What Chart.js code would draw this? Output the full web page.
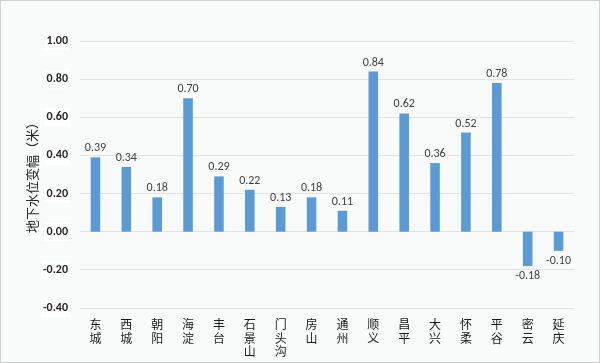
<!DOCTYPE html>
<html>
<head>
<meta charset="utf-8">
<script src="https://cdn.jsdelivr.net/npm/chart.js@4.4.1/dist/chart.umd.min.js"></script>
<style>
  html, body { margin: 0; padding: 0; background: #ffffff; }
  #wrap { width: 600px; height: 363px; }
</style>
</head>
<body>
<div id="wrap"><canvas id="chartWaterLevel" width="600" height="363"></canvas></div>
<script>
// District names (each char on its own line, like the original)
const districts = ['东城', '西城', '朝阳', '海淀', '丰台', '石景山', '门头沟', '房山',
    '通州', '顺义', '昌平', '大兴', '怀柔', '平谷', '密云', '延庆'];
// Change of groundwater level in metres
const levelChange = [0.39, 0.34, 0.18, 0.70, 0.29, 0.22, 0.13, 0.18,
    0.11, 0.84, 0.62, 0.36, 0.52, 0.78, -0.18, -0.10];
const yMin = -0.4;
const yMax = 1.0;
const yStep = 0.2;
const yTitle = '地下水位变幅（米）';

const cjkFont = '"Noto Sans CJK SC", "Noto Sans", sans-serif';
const latinFont = 'Calibri, "Liberation Sans", "Open Sans", sans-serif';

// Background + thin frame around the whole picture
const frame = {
    id: 'frame',
    beforeDraw(chart) {
        const c = chart.ctx;
        c.save();
        c.fillStyle = '#f9fafa';
        c.fillRect(0, 0, chart.width, chart.height);
        c.strokeStyle = '#d0d0d0';
        c.lineWidth = 1;
        c.strokeRect(0.5, 0.5, chart.width - 1, chart.height - 1);
        c.restore();
    }
};

// Value labels above (or below) each bar
const valueLabels = {
    id: 'valueLabels',
    afterDatasetsDraw(chart) {
        const c = chart.ctx;
        const meta = chart.getDatasetMeta(0);
        c.save();
        c.font = '12px ' + latinFont;
        c.fillStyle = '#404040';
        c.textAlign = 'center';
        meta.data.forEach((bar, i) => {
            const v = levelChange[i];
            if (v >= 0) {
                c.textBaseline = 'bottom';
                c.fillText(v.toFixed(2), bar.x, bar.y - 3);
            } else {
                c.textBaseline = 'top';
                c.fillText(v.toFixed(2), bar.x, bar.y + 4);
            }
        });
        c.restore();
    }
};

const ctx = document.getElementById('chartWaterLevel').getContext('2d');
new Chart(ctx, {
    type: 'bar',
    data: {
        labels: districts.map(d => d.split('')),
        datasets: [{
            data: levelChange,
            backgroundColor: '#5b9bd5',
            borderWidth: 0,
            barPercentage: 0.31,
            categoryPercentage: 1.0
        }]
    },
    options: {
        responsive: false,
        animation: false,
        layout: { padding: { top: 41, right: 26, bottom: 0, left: 24 } },
        plugins: {
            legend: { display: false },
            tooltip: { enabled: false }
        },
        scales: {
            x: {
                grid: { display: false },
                border: { display: false },
                ticks: {
                    color: '#1a1a1a',
                    font: { family: cjkFont, size: 12, lineHeight: 1.12 },
                    padding: 2,
                    maxRotation: 0,
                    autoSkip: false
                },
                afterFit(scale) { scale.height = 55; }
            },
            y: {
                min: yMin,
                max: yMax,
                ticks: {
                    stepSize: yStep,
                    color: '#262626',
                    font: { family: latinFont, size: 12, weight: 'bold' },
                    padding: 12,
                    callback: v => (Math.abs(v) < 1e-9 ? 0 : v).toFixed(2),
                    showLabelBackdrop: true,
                    backdropColor: '#ffffff',
                    backdropPadding: 2
                },
                grid: { color: '#e2e2e2', drawTicks: false },
                border: { display: false },
                title: {
                    display: true,
                    text: yTitle,
                    color: '#262626',
                    font: { family: cjkFont, size: 13 },
                    padding: { top: 0, bottom: 8 }
                },
                afterFit(scale) { scale.width = 56; }
            }
        }
    },
    plugins: [frame, valueLabels]
});
</script>
</body>
</html>
